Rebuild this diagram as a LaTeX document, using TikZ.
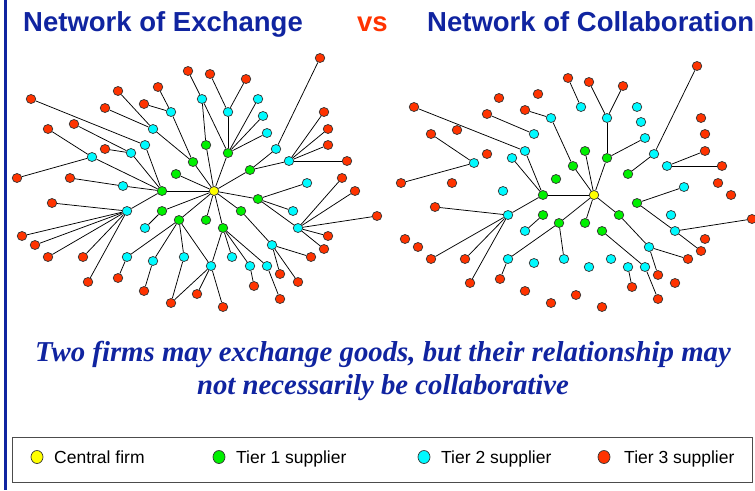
\documentclass[tikz,border=0pt]{standalone}
\usepackage{fontspec}
\setmainfont{Liberation Serif}
\setsansfont{Liberation Sans}
\usepackage{tikz}
\usetikzlibrary{%
  shapes.geometric,%
  backgrounds,%
}

\definecolor{titleblue}{RGB}{16,36,160}
\definecolor{vsred}{RGB}{255,51,0}
\definecolor{firmyellow}{RGB}{255,255,0}
\definecolor{tieronegreen}{RGB}{0,240,0}
\definecolor{tiertwocyan}{RGB}{0,250,255}
\definecolor{tierthreered}{RGB}{255,51,0}

\tikzset{
  firm/.style={ellipse, draw=black!80, line width=0.7pt,
    minimum width=9.6pt, minimum height=9pt, inner sep=0pt},
  central/.style={firm, fill=firmyellow},
  tierone/.style={firm, fill=tieronegreen},
  tiertwo/.style={firm, fill=tiertwocyan},
  tierthree/.style={firm, fill=tierthreered},
  key/.style={firm, minimum width=12pt, minimum height=13pt},
  link/.style={line width=0.75pt},
  heading/.style={anchor=base west, inner sep=0pt,
    font=\sffamily\bfseries\fontsize{27.5}{30}\selectfont},
  claim/.style={anchor=base, inner sep=0pt, text=titleblue,
    font=\rmfamily\bfseries\itshape\fontsize{28.8}{32}\selectfont},
  keytext/.style={anchor=base west, inner sep=0pt,
    font=\sffamily\fontsize{17.5}{20}\selectfont},
}

\begin{document}
\begin{tikzpicture}[x=1pt, y=-1pt]

      \useasboundingbox (0, 0) rectangle (755, 490);
      \fill [titleblue] (4, 0) rectangle (7, 490);

      % headings
      \node[heading, text=titleblue] (hexchange) at (23, 31) {Network of Exchange};
      \node[heading, text=vsred] (hvs) at (357, 31) {vs};
      \node[heading, text=titleblue] (hcollab) at (427, 31) {Network of Collaboration};

      % network of exchange
      \node[central] (E0) at (214, 191) {};
      \foreach \i/\px/\py in {1/206/145, 2/228/153, 3/193/162, 4/176/174,
        5/250/170, 6/162/191, 7/258/199, 8/162/211, 9/179/220, 10/206/220,
        11/223/228, 12/241/211}
        \node[tierone] (Eg\i) at (\px, \py) {};
      \foreach \i/\px/\py in {1/202/99, 2/228/112, 3/258/99, 4/263/116,
        5/267/133, 6/171/112, 7/153/129, 8/145/145, 9/131/153, 10/92/157,
        11/276/149, 12/289/161, 13/123/186, 14/307/183, 15/127/211,
        16/293/211, 17/145/228, 18/298/228, 19/272/245, 20/127/257,
        21/153/261, 22/184/257, 23/211/266, 24/232/257, 25/250/266,
        26/267/266}
        \node[tiertwo] (Ec\i) at (\px, \py) {};
      \foreach \i/\px/\py in {1/320/58, 2/188/71, 3/210/74, 4/246/79,
        5/158/87, 6/118/91, 7/31/99, 8/144/104, 9/105/108, 10/324/112,
        11/74/124, 12/48/129, 13/328/129, 14/328/145, 15/105/149,
        16/347/161, 17/17/178, 18/70/178, 19/342/178, 20/355/191,
        21/52/203, 22/377/216, 23/22/236, 24/35/245, 25/48/257, 26/83/257,
        27/328/236, 28/324/249, 29/311/257, 30/88/282, 31/118/278,
        32/144/291, 33/171/303, 34/197/294, 35/223/307, 36/254/286,
        37/280/274, 38/298/282, 39/280/299}
        \node[tierthree] (Er\i) at (\px, \py) {};

      % network of collaboration
      \node[central] (C0) at (594, 195) {};
      \foreach \i/\px/\py in {1/585/151, 2/607/158, 3/573/166, 4/556/179,
        5/628/174, 6/543/195, 7/637/203, 8/543/215, 9/559/223, 10/585/223,
        11/602/231, 12/619/215}
        \node[tierone] (Cg\i) at (\px, \py) {};
      \foreach \i/\px/\py in {1/581/107, 2/607/118, 3/637/107, 4/641/122,
        5/645/138, 6/551/118, 7/534/134, 8/525/151, 9/512/158, 10/474/163,
        11/654/154, 12/667/166, 13/503/191, 14/684/187, 15/508/215,
        16/671/215, 17/525/231, 18/675/231, 19/649/247, 20/508/259,
        21/534/263, 22/564/259, 23/589/267, 24/611/259, 25/628/267,
        26/645/267}
        \node[tiertwo] (Cc\i) at (\px, \py) {};
      \foreach \i/\px/\py in {1/697/66, 2/568/78, 3/589/82, 4/623/86,
        5/538/94, 6/499/98, 7/414/107, 8/525/110, 9/487/114, 10/701/118,
        11/457/130, 12/431/134, 13/705/134, 14/705/151, 15/487/154,
        16/722/166, 17/401/183, 18/452/183, 19/718/183, 20/731/195,
        21/435/207, 22/752/219, 23/405/239, 24/418/247, 25/431/259,
        26/465/259, 27/705/239, 28/701/251, 29/688/259, 30/470/283,
        31/500/279, 32/525/291, 33/551/303, 34/576/295, 35/602/307,
        36/632/287, 37/658/275, 38/675/283, 39/658/299}
        \node[tierthree] (Cr\i) at (\px, \py) {};

      \begin{scope}[on background layer]
        \foreach \g in {1,...,12}
          \draw[link] (E0) -- (Eg\g);
        \foreach \a/\b in {Eg1/Ec1, Eg2/Ec1, Eg2/Ec2, Eg2/Ec3, Eg2/Ec4,
          Eg2/Ec5, Eg3/Ec6, Eg3/Ec7, Eg6/Ec8, Eg6/Ec9, Eg6/Ec10, Eg6/Ec13,
          Eg6/Ec15, Eg5/Ec11, Eg5/Ec12, Eg7/Ec14, Eg7/Ec16, Eg7/Ec18,
          Eg8/Ec17, Eg9/Ec20, Eg9/Ec21, Eg9/Ec22, Eg9/Ec23, Eg11/Ec23,
          Eg11/Ec24, Eg11/Ec25, Eg11/Ec26, Eg12/Ec19,
          Ec1/Er2, Ec2/Er3, Ec2/Er4, Ec6/Er5, Ec6/Er8, Ec7/Er6, Ec7/Er9,
          Ec8/Er7, Ec9/Er11, Ec9/Er15, Ec10/Er12, Ec10/Er17, Ec11/Er1,
          Ec12/Er10, Ec12/Er13, Ec12/Er14, Ec12/Er16, Ec13/Er18,
          Ec15/Er21, Ec15/Er23, Ec15/Er24, Ec15/Er25, Ec15/Er26, Ec15/Er30,
          Ec18/Er19, Ec18/Er20, Ec18/Er22, Ec18/Er27, Ec18/Er28,
          Ec19/Er29, Ec19/Er37, Ec19/Er38, Ec20/Er31, Ec21/Er32, Ec22/Er33,
          Ec23/Er33, Ec23/Er34, Ec23/Er35, Ec25/Er36, Ec26/Er39}
          \draw[link] (\a) -- (\b);
        \foreach \a/\b in {C0/Cg1, C0/Cg2, C0/Cg3, C0/Cg6, C0/Cg9,
          C0/Cg10, C0/Cg12,
          Cg2/Cc2, Cg2/Cc5, Cg3/Cc6, Cg5/Cc11, Cg6/Cc8, Cg6/Cc9, Cg6/Cc15,
          Cg7/Cc14, Cg7/Cc18, Cg8/Cc17, Cg9/Cc20, Cg9/Cc22, Cg11/Cc26,
          Cg12/Cc19,
          Cc1/Cr2, Cc2/Cr3, Cc2/Cr4, Cc6/Cr8, Cc7/Cr9, Cc8/Cr7, Cc10/Cr12,
          Cc10/Cr17, Cc11/Cr1, Cc12/Cr14, Cc12/Cr16, Cc15/Cr21, Cc15/Cr25,
          Cc15/Cr26, Cc15/Cr30, Cc18/Cr22, Cc18/Cr28, Cc19/Cr29, Cc19/Cr37,
          Cc20/Cr31, Cc25/Cr36, Cc26/Cr39}
          \draw[link] (\a) -- (\b);
      \end{scope}

      % the point made
      \node[claim] (claimone) at (383, 361)
        {Two firms may exchange goods, but their relationship may};
      \node[claim] (claimtwo) at (383, 394)
        {not necessarily be collaborative};

      % legend
      \node[draw=black!70, line width=0.8pt, minimum width=740pt,
        minimum height=45pt, inner sep=0pt, anchor=north west]
        (legend) at (12, 437) {};
      \node[key, fill=firmyellow] (kcentral) at (37, 457) {};
      \node[keytext] (tcentral) at (54, 463.5) {Central firm};
      \node[key, fill=tieronegreen] (kone) at (219, 457) {};
      \node[keytext] (tone) at (236, 463.5) {Tier 1 supplier};
      \node[key, fill=tiertwocyan] (ktwo) at (424, 457) {};
      \node[keytext] (ttwo) at (441, 463.5) {Tier 2 supplier};
      \node[key, fill=tierthreered] (kthree) at (604, 457) {};
      \node[keytext] (tthree) at (624, 463.5) {Tier 3 supplier};

    \end{tikzpicture}
\end{document}
